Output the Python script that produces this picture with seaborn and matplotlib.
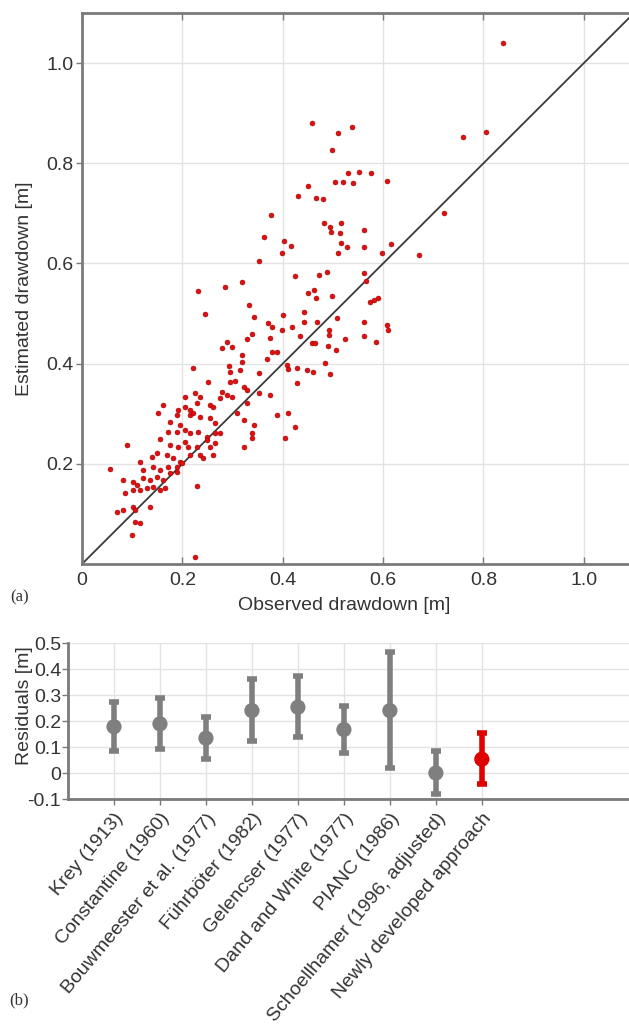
import numpy as np
import pandas as pd
import matplotlib
matplotlib.use("Agg")
import matplotlib.pyplot as plt
import seaborn as sns

# (a) observed vs estimated drawdown [m]
observed = [
    0.162, 0.192, 0.205, 0.229, 0.255, 0.152, 0.189, 0.215, 0.222, 0.235,
    0.255, 0.265, 0.308, 0.322, 0.342, 0.175, 0.195, 0.205, 0.215, 0.172,
    0.189, 0.232, 0.249, 0.265, 0.275, 0.338, 0.338, 0.089, 0.156, 0.175,
    0.192, 0.205, 0.212, 0.229, 0.249, 0.255, 0.265, 0.322, 0.116, 0.139,
    0.149, 0.169, 0.182, 0.195, 0.215, 0.235, 0.242, 0.262, 0.056, 0.122,
    0.142, 0.156, 0.172, 0.189, 0.199, 0.082, 0.102, 0.109, 0.122, 0.136,
    0.149, 0.162, 0.175, 0.189, 0.229, 0.086, 0.102, 0.116, 0.129, 0.142,
    0.156, 0.166, 0.069, 0.082, 0.102, 0.106, 0.136, 0.106, 0.116, 0.099,
    0.225,
    0.352, 0.425, 0.232, 0.285, 0.318, 0.451, 0.332, 0.245, 0.342, 0.401,
    0.443, 0.443, 0.371, 0.378, 0.398, 0.418, 0.435, 0.375, 0.338, 0.328,
    0.288, 0.279, 0.298, 0.388, 0.378, 0.318, 0.318, 0.368, 0.222, 0.292,
    0.295, 0.315, 0.352, 0.408, 0.428, 0.411, 0.448, 0.252, 0.295, 0.305,
    0.322, 0.328, 0.428, 0.225, 0.279, 0.288, 0.298, 0.352, 0.375, 0.205,
    0.235, 0.275, 0.328, 0.215, 0.262, 0.388, 0.411,
    0.473, 0.489, 0.562, 0.566, 0.463, 0.467, 0.498, 0.573, 0.581, 0.589,
    0.468, 0.509, 0.561, 0.608, 0.609, 0.458, 0.465, 0.493, 0.493, 0.524,
    0.561, 0.586, 0.491, 0.506, 0.461, 0.485, 0.495, 0.425,
    0.458, 0.511, 0.538, 0.498, 0.531, 0.552, 0.576, 0.504, 0.521, 0.541,
    0.608, 0.451, 0.431, 0.467, 0.481, 0.376, 0.483, 0.495, 0.516, 0.496,
    0.514, 0.561, 0.363, 0.403, 0.416, 0.516, 0.529, 0.561, 0.616, 0.398,
    0.511, 0.598, 0.671,
    0.839, 0.759, 0.806, 0.722, 0.405,
]
estimated = [
    0.317, 0.307, 0.314, 0.321, 0.317, 0.301, 0.297, 0.297, 0.301, 0.294,
    0.291, 0.281, 0.301, 0.287, 0.277, 0.284, 0.277, 0.267, 0.261, 0.264,
    0.264, 0.264, 0.254, 0.261, 0.261, 0.261, 0.251, 0.238, 0.249, 0.238,
    0.234, 0.244, 0.234, 0.234, 0.248, 0.234, 0.241, 0.234, 0.204, 0.214,
    0.221, 0.218, 0.211, 0.204, 0.218, 0.218, 0.211, 0.218, 0.189, 0.188,
    0.194, 0.188, 0.194, 0.194, 0.201, 0.168, 0.164, 0.158, 0.171, 0.168,
    0.174, 0.168, 0.181, 0.184, 0.156, 0.141, 0.148, 0.148, 0.151, 0.154,
    0.148, 0.151, 0.104, 0.108, 0.114, 0.108, 0.114, 0.084, 0.081, 0.058,
    0.013,
    0.605, 0.575, 0.546, 0.553, 0.562, 0.542, 0.517, 0.500, 0.494, 0.497,
    0.504, 0.484, 0.482, 0.474, 0.467, 0.474, 0.455, 0.452, 0.459, 0.449,
    0.444, 0.431, 0.433, 0.424, 0.424, 0.417, 0.404, 0.409, 0.392, 0.395,
    0.384, 0.387, 0.382, 0.397, 0.391, 0.389, 0.387, 0.364, 0.364, 0.366,
    0.354, 0.347, 0.362, 0.341, 0.344, 0.337, 0.334, 0.341, 0.337, 0.333,
    0.334, 0.331, 0.321, 0.307, 0.314, 0.297, 0.301,
    0.577, 0.582, 0.581, 0.565, 0.548, 0.532, 0.535, 0.524, 0.528, 0.532,
    0.484, 0.492, 0.484, 0.477, 0.467, 0.442, 0.441, 0.467, 0.457, 0.450,
    0.455, 0.444, 0.435, 0.427, 0.384, 0.401, 0.379, 0.273,
    0.881, 0.860, 0.872, 0.826, 0.781, 0.783, 0.780, 0.763, 0.763, 0.760,
    0.765, 0.754, 0.735, 0.730, 0.729, 0.697, 0.681, 0.673, 0.680, 0.663,
    0.660, 0.667, 0.652, 0.645, 0.635, 0.640, 0.633, 0.632, 0.639, 0.620,
    0.620, 0.621, 0.617,
    1.041, 0.853, 0.863, 0.700, 0.252,
]

# (b) residuals per method: mean with lower / upper bounds
methods = [
    "Krey (1913)", "Constantine (1960)", "Bouwmeester et al. (1977)",
    "Führböter (1982)", "Gelencser (1977)", "Dand and White (1977)",
    "PIANC (1986)", "Schoellhamer (1996, adjusted)", "Newly developed approach",
]
res_mid = [0.178, 0.189, 0.134, 0.240, 0.253, 0.167, 0.240, 0.000, 0.053]
res_low = [0.085, 0.094, 0.055, 0.124, 0.137, 0.076, 0.021, -0.080, -0.043]
res_high = [0.272, 0.288, 0.214, 0.360, 0.372, 0.256, 0.464, 0.083, 0.154]

GRAY = "#7f7f7f"
RED = "#e00000"
SPINE = "#7a7a7a"
GRID = "#e3e3e3"

sns.set_theme(style="white")
plt.rcParams["font.family"] = ["Liberation Sans", "DejaVu Sans"]

fig = plt.figure(figsize=(6.29, 10.25), dpi=100)

# ---- panel (a)
ax1 = fig.add_axes([82 / 629, 1 - 564 / 1025, 547 / 629, 551 / 1025])
df = pd.DataFrame({"obs": observed, "est": estimated})
ax1.plot([0, 1.1], [0, 1.1], color="#3a3a3a", lw=1.3, zorder=2)
sns.scatterplot(data=df, x="obs", y="est", ax=ax1, color="#e01010", s=13,
                edgecolor="#8a0000", linewidth=0.3, zorder=3)
ax1.set_xlim(0, 1.09)
ax1.set_ylim(0, 1.1)
ax1.set_xticks([0, 0.2, 0.4, 0.6, 0.8, 1.0])
ax1.set_xticklabels(["0", "0.2", "0.4", "0.6", "0.8", "1.0"])
ax1.set_yticks([0.2, 0.4, 0.6, 0.8, 1.0])
ax1.set_yticklabels(["0.2", "0.4", "0.6", "0.8", "1.0"])
ax1.grid(True, color=GRID, lw=1)
ax1.set_axisbelow(True)
for side in ["left", "bottom", "top"]:
    ax1.spines[side].set_color(SPINE)
    ax1.spines[side].set_linewidth(2)
ax1.spines["right"].set_visible(False)
ax1.tick_params(axis="x", direction="in", top=True, bottom=True, length=5,
                width=1, color=SPINE, labelsize=14, labelcolor="#333333", pad=6)
ax1.tick_params(axis="y", direction="out", left=True, length=4,
                width=1, color=SPINE, labelsize=14, labelcolor="#333333", pad=2)
ax1.set_xlabel("Observed drawdown [m]", fontsize=14, color="#333333")
ax1.set_ylabel("Estimated drawdown [m]", fontsize=14, color="#333333")
ax1.xaxis.set_label_coords(0.48, -0.06)
ax1.yaxis.set_label_coords(-0.09, 0.5)

# ---- panel (b)
ax2 = fig.add_axes([68 / 629, 1 - 799 / 1025, 561 / 629, 156 / 1025])
pos = np.arange(1, len(methods) + 1)
colors = [GRAY] * (len(methods) - 1) + [RED]
for x, m, lo, hi, c in zip(pos, res_mid, res_low, res_high, colors):
    ax2.errorbar(x, m, yerr=[[m - lo], [hi - m]], fmt="none", ecolor=c,
                 elinewidth=4, capsize=3.5, capthick=4, zorder=3)
dfb = pd.DataFrame({"x": pos, "mid": res_mid, "method": methods})
sns.scatterplot(data=dfb, x="x", y="mid", hue="method", palette=colors,
                s=120, edgecolor="none", legend=False, ax=ax2, zorder=4)
ax2.set_xlim(0, 12.2)
ax2.set_ylim(-0.1, 0.5)
ax2.set_yticks([-0.1, 0, 0.1, 0.2, 0.3, 0.4, 0.5])
ax2.set_yticklabels(["-0.1", "0", "0.1", "0.2", "0.3", "0.4", "0.5"])
ax2.set_xticks(pos)
ax2.set_xticklabels(methods, rotation=50, ha="right", va="top",
                    rotation_mode="anchor", fontsize=14, color="#333333")
ax2.grid(True, color=GRID, lw=1)
ax2.set_axisbelow(True)
for side in ["left", "bottom"]:
    ax2.spines[side].set_color(SPINE)
    ax2.spines[side].set_linewidth(2)
ax2.spines["top"].set_visible(False)
ax2.spines["right"].set_visible(False)
ax2.tick_params(axis="both", direction="out", left=True, bottom=True, length=4,
                width=1, color=SPINE, labelcolor="#333333")
ax2.tick_params(axis="y", labelsize=14, pad=1)
ax2.tick_params(axis="x", pad=4)
ax2.set_xlabel("")
ax2.set_ylabel("Residuals [m]", fontsize=14, color="#333333")
ax2.yaxis.set_label_coords(-0.062, 0.6)

fig.text(10 / 629, 1 - 597 / 1025, "(a)", fontsize=12, family="Liberation Serif",
         color="#333333", va="center")
fig.text(9 / 629, 1 - 1000 / 1025, "(b)", fontsize=12, family="Liberation Serif",
         color="#333333", va="center")

fig.savefig("out.png", dpi=100)
